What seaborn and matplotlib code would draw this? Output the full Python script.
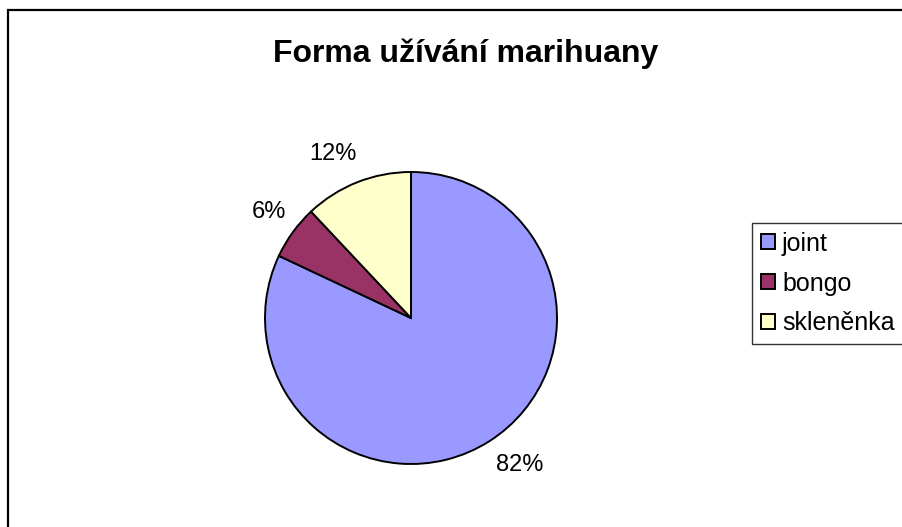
import matplotlib
matplotlib.use("Agg")
import matplotlib.pyplot as plt
from matplotlib.patches import Rectangle
import seaborn as sns

# data
forms = ["joint", "bongo", "skleněnka"]
shares = [82, 6, 12]
colors = ["#9999FF", "#993366", "#FFFFCC"]
title = "Forma užívání marihuany"

sns.set_theme(style="white")
plt.rcParams["font.family"] = ["Liberation Sans", "DejaVu Sans"]
plt.rcParams["text.color"] = "black"

W, H = 902, 527
fig = plt.figure(figsize=(W / 100, H / 100), dpi=100)
fig.patch.set_facecolor("white")

# outer chart frame (cut off at right and bottom)
fig.patches.append(Rectangle((8 / W, -0.05), 1.1, 1 - 10 / H + 0.05,
                             transform=fig.transFigure, fill=False,
                             edgecolor="black", linewidth=1.6))

cx, cy, r = 411, 318, 146
ax = fig.add_axes([(cx - r) / W, (H - cy - r) / H, 2 * r / W, 2 * r / H])
wedges, texts, autotexts = ax.pie(
    shares, colors=colors, startangle=90, counterclock=False,
    autopct="%1.0f%%", pctdistance=1.24,
    wedgeprops=dict(edgecolor="black", linewidth=1.4),
    textprops=dict(fontsize=17, color="black"))
# nudge labels a little the way Excel places them
nudges = [(0.08, 0.04), (0.03, 0.0), (-0.08, -0.03)]
for t, (dx, dy) in zip(autotexts, nudges):
    x, y = t.get_position()
    t.set_position((x + dx, y + dy))
ax.set_xlim(-1, 1)
ax.set_ylim(-1, 1)
ax.set_aspect("equal")
ax.axis("off")

fig.text(466 / W, 1 - 62 / H, title, ha="center", va="baseline",
         fontsize=23, fontweight="bold", color="black")

leg = fig.legend(wedges, forms, loc="upper left",
                 bbox_to_anchor=(752 / W, 1 - 223 / H),
                 fontsize=18, frameon=True, fancybox=False,
                 edgecolor="black", handlelength=0.55, handleheight=0.55,
                 handletextpad=0.3, labelspacing=0.63, borderpad=0.35,
                 borderaxespad=0)
leg.get_frame().set_linewidth(1.0)
for t in leg.get_texts():
    t.set_color("black")

fig.savefig("out.png", dpi=100)
